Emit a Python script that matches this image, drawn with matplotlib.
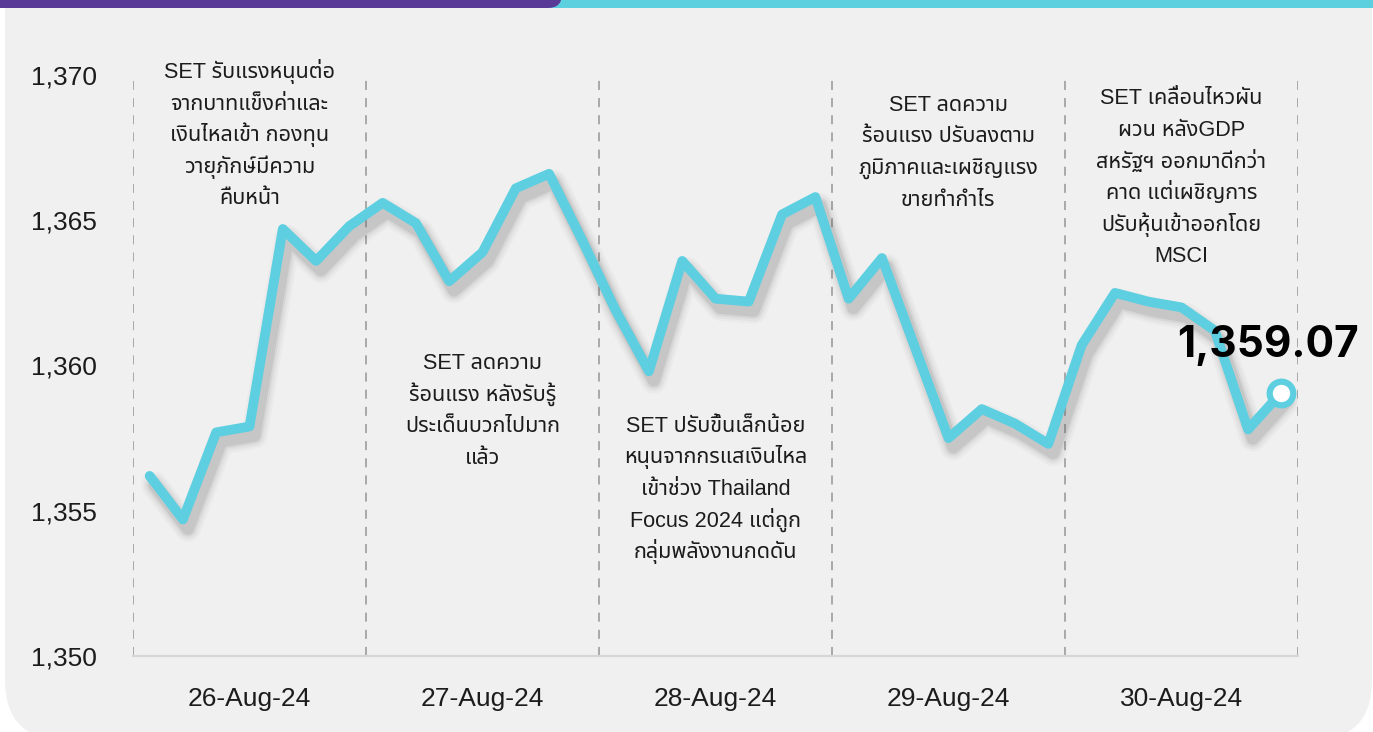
import matplotlib
matplotlib.use('Agg')
import matplotlib.pyplot as plt
from matplotlib import font_manager
from matplotlib.patches import FancyBboxPatch, Rectangle
from matplotlib.transforms import offset_copy

# SET index, 7 readings per trading day, 26-30 Aug 2024
set_index = [1356.2, 1354.7, 1357.7, 1357.9, 1364.7, 1363.6, 1364.8,
             1365.6, 1364.9, 1362.9, 1363.9, 1366.1, 1366.6, 1364.3,
             1361.9, 1359.8, 1363.6, 1362.3, 1362.2, 1365.2, 1365.8,
             1362.3, 1363.7, 1360.6, 1357.5, 1358.5, 1358.0, 1357.3,
             1360.7, 1362.5, 1362.2, 1362.0, 1361.2, 1357.8, 1359.07]
days = ['26-Aug-24', '27-Aug-24', '28-Aug-24', '29-Aug-24', '30-Aug-24']
y_ticks = [1350, 1355, 1360, 1365, 1370]
last_label = '1,359.07'

notes = [
    ['SET รับแรงหนุนต่อ', 'จากบาทแข็งค่าและ', 'เงินไหลเข้า กองทุน', 'วายุภักษ์มีความ', 'คืบหน้า'],
    ['SET ลดความ', 'ร้อนแรง หลังรับรู้', 'ประเด็นบวกไปมาก', 'แล้ว'],
    ['SET ปรับขึ้นเล็กน้อย', 'หนุนจากกรแสเงินไหล', 'เข้าช่วง Thailand', 'Focus 2024 แต่ถูก', 'กลุ่มพลังงานกดดัน'],
    ['SET ลดความ', 'ร้อนแรง ปรับลงตาม', 'ภูมิภาคและเผชิญแรง', 'ขายทำกำไร'],
    ['SET เคลื่อนไหวผัน', 'ผวน หลังGDP', 'สหรัฐฯ ออกมาดีกว่า', 'คาด แต่เผชิญการ', 'ปรับหุ้นเข้าออกโดย', 'MSCI'],
]

names = {f.name for f in font_manager.fontManager.ttflist}
thai = next((n for n in ['Noto Sans Thai', 'Anuphan', 'IBM Plex Sans Thai', 'Prompt', 'Kanit']
             if n in names), 'DejaVu Sans')
latin = 'Liberation Sans'
plt.rcParams['font.family'] = [latin, thai, 'DejaVu Sans']

per_day = 7
x = list(range(len(set_index)))
cyan = '#5dcfe0'
text_c = '#1c1c1c'

fig = plt.figure(figsize=(13.73, 7.32), dpi=100, facecolor='white')

# background card and header strip (pixel coords)
bg = fig.add_axes([0, 0, 1, 1], zorder=0)
bg.set_xlim(0, 1373)
bg.set_ylim(732, 0)
bg.axis('off')
bg.add_patch(FancyBboxPatch((5, -120), 1367, 860, boxstyle='round,pad=0,rounding_size=60',
                            fc='#f0f0f0', ec='none'))
bg.add_patch(Rectangle((540, -5), 840, 13, fc='#5dd0df', ec='none'))
bg.add_patch(FancyBboxPatch((-30, -30), 592, 38, boxstyle='round,pad=0,rounding_size=14',
                            fc='#5a3a97', ec='none'))

ax = fig.add_axes([133 / 1373, 1 - 656 / 732, 1165 / 1373, 581 / 732], zorder=1)
ax.set_facecolor('none')
ax.set_xlim(-0.5, len(set_index) - 0.5)
ax.set_ylim(1350, 1370)

for k in range(len(days) + 1):
    ax.axvline(k * per_day - 0.5, color='#a3a3a3', lw=1.3, dashes=(5, 4.5), zorder=1)

for s in ['left', 'right', 'top']:
    ax.spines[s].set_visible(False)
ax.spines['bottom'].set_color('#d6d6d6')
ax.spines['bottom'].set_linewidth(1.6)
ax.spines['bottom'].set_zorder(1)

ax.set_yticks(y_ticks)
ax.set_yticklabels(['{:,}'.format(v) for v in y_ticks], fontsize=19, color=text_c)
ax.set_xticks([k * per_day + 3 for k in range(len(days))])
ax.set_xticklabels(days, fontsize=19, color=text_c)
ax.tick_params(axis='y', length=0, pad=26)
ax.tick_params(axis='x', length=0, pad=22)

# soft drop shadow under the line
shadow = offset_copy(ax.transData, fig=fig, x=3.5, y=-6.5, units='points')
for w, a in [(19, 0.035), (15.5, 0.05), (12, 0.08), (9, 0.12)]:
    ax.plot(x, set_index, color='#555555', lw=w, alpha=a, transform=shadow,
            solid_joinstyle='round', solid_capstyle='round', zorder=2)

ax.plot(x, set_index, color=cyan, lw=7, solid_joinstyle='round',
        solid_capstyle='round', zorder=3)
ax.plot(x[-1], set_index[-1], 'o', ms=17, mfc='white', mec=cyan, mew=4.5, zorder=4)

ax.annotate(last_label, (x[-1], set_index[-1]), xytext=(-10, 34), textcoords='offset points',
            ha='center', va='center', fontsize=30.5, fontweight='bold',
            family=['Inter', 'Liberation Sans'], color='black', zorder=5)

first_base = [1369.9, 1359.88, 1357.72, 1368.77, 1368.99]
for k, lines in enumerate(notes):
    cx = k * per_day + 3
    for j, line in enumerate(lines):
        ax.annotate(line, (cx, first_base[k]), xytext=(0, -22.75 * j), textcoords='offset points',
                    ha='center', va='baseline', fontsize=15.6, color=text_c,
                    annotation_clip=False, zorder=5)

fig.savefig('out.png', dpi=100, facecolor=fig.get_facecolor())
